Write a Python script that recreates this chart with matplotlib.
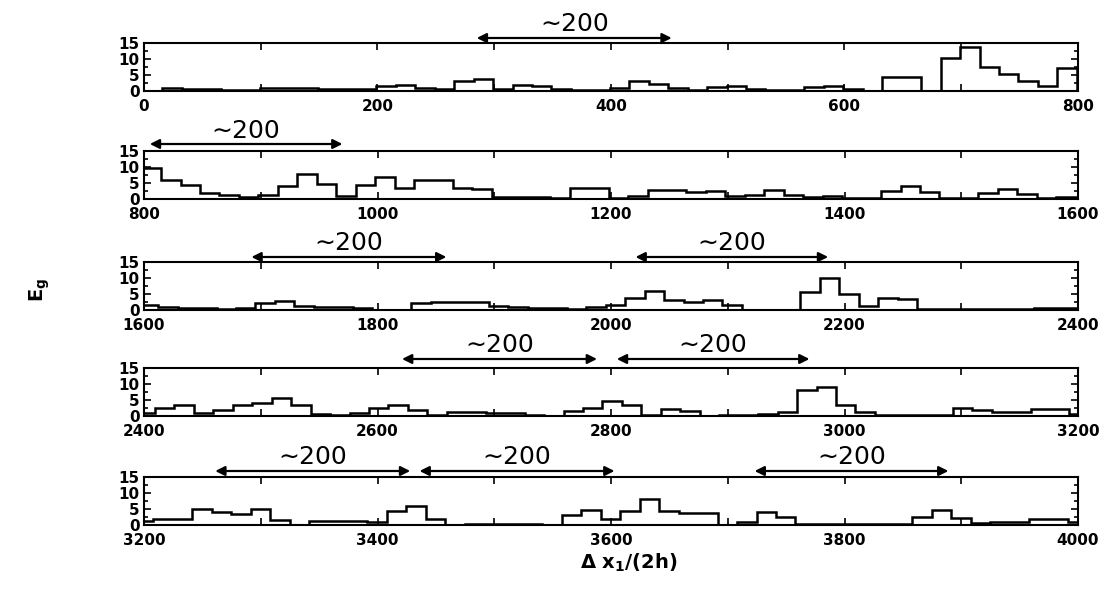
import numpy as np
import matplotlib
matplotlib.use("Agg")
import matplotlib.pyplot as plt
from matplotlib.ticker import FixedLocator, FuncFormatter

# ---------------- data ----------------
bin_width = 50.0 / 3.0
panel_starts = [0, 800, 1600, 2400, 3200]
bin_offsets = [-1.0, -2.0, -4.5, -7.3, -8.7]

eg_panel1 = [0.0, 1.0, 0.6, 0.6, 0.2, 0.4, 0.8, 0.8, 0.8, 0.6, 0.7, 0.6, 1.5, 2.0, 1.0, 0.6,
             3.1, 3.6, 0.7, 1.8, 1.5, 0.5, 0.3, 0.3, 1.0, 3.0, 2.1, 0.8, 0.2, 1.3, 1.5, 0.7,
             0.4, 0.3, 1.3, 1.6, 0.7, 0.1, 4.5, 4.5, 0.1, 10.3, 13.8, 7.5, 5.2, 3.1, 1.5, 7.3, 0.0]
eg_panel2 = [9.6, 6.0, 4.5, 1.9, 1.2, 0.5, 1.2, 4.1, 7.9, 4.8, 1.0, 4.3, 6.8, 3.5, 5.8, 6.0,
             3.5, 3.2, 0.7, 0.6, 0.5, 0.4, 3.3, 3.3, 0.3, 1.0, 2.7, 2.7, 2.2, 2.4, 0.8, 1.2,
             2.8, 1.2, 0.6, 1.0, 0.3, 0.3, 2.4, 4.2, 2.2, 0.3, 0.3, 1.8, 3.0, 1.5, 0.4, 0.6, 0.6]
eg_panel3 = [1.6, 0.8, 0.6, 0.5, 0.4, 0.6, 2.3, 2.8, 1.2, 0.8, 1.0, 0.5, 0.1, 0.1, 2.3, 2.5,
             2.6, 2.5, 1.2, 1.0, 0.7, 0.7, 0.3, 1.0, 1.5, 3.9, 5.8, 3.2, 2.5, 3.0, 1.6, 0.1,
             0.1, 0.1, 5.5, 9.9, 4.9, 1.1, 3.7, 3.3, 0.4, 0.3, 0.3, 0.2, 0.3, 0.4, 0.5, 0.5, 0.5]
eg_panel4 = [0.8, 2.4, 3.3, 1.0, 1.8, 3.3, 4.0, 5.5, 3.4, 0.7, 0.3, 0.9, 2.6, 3.4, 1.9, 0.3,
             1.4, 1.3, 0.8, 0.8, 0.3, 0.0, 1.6, 2.6, 4.6, 3.4, 0.4, 2.3, 1.5, 0.1, 0.2, 0.3,
             0.5, 1.1, 8.1, 9.1, 3.4, 1.1, 0.4, 0.4, 0.3, 0.4, 2.5, 1.8, 1.3, 1.3, 2.3, 2.3, 0.7]
eg_panel5 = [1.2, 1.9, 1.9, 5.1, 4.1, 3.3, 4.9, 1.6, 0.1, 1.2, 1.4, 1.4, 1.0, 4.5, 5.8, 1.8,
             0.1, 0.2, 0.3, 0.3, 0.2, 0.0, 3.1, 4.8, 1.9, 4.5, 8.1, 4.4, 3.6, 3.6, 0.1, 0.9,
             4.0, 2.6, 0.2, 0.3, 0.4, 0.2, 0.2, 0.2, 2.5, 4.8, 2.3, 0.5, 0.8, 1.0, 1.9, 1.9, 1.0]
panels = [eg_panel1, eg_panel2, eg_panel3, eg_panel4, eg_panel5]

arrow_spans = [
    [(285, 452)],
    [(805, 970)],
    [(1692, 1859), (2021, 2186)],
    [(2621, 2788), (2805, 2970)],
    [(3261, 3428), (3436, 3603), (3723, 3889)],
]
arrow_label = "\u223c200"
y_ticks = [0, 5, 10, 15]
ylabel = r"E$_\mathregular{g}$"
xlabel = r"$\mathregular{\Delta}$ x$_\mathregular{1}$/(2h)"

# ---------------- figure ----------------
W, H = 1109, 594
fig = plt.figure(figsize=(W / 100, H / 100), dpi=100)
plt.rcParams["font.family"] = ["DejaVu Sans"]

left_px, width_px, height_px = 144, 934, 48
tops_px = [43, 151, 262, 368, 477]
arrow_px = [5, 7, 5, 9, 6]
text_px = [19, 19.5, 18.5, 23, 20.5]

for i, vals in enumerate(panels):
    top = tops_px[i]
    ax = fig.add_axes([left_px / W, 1 - (top + height_px) / H, width_px / W, height_px / H])
    start = panel_starts[i]
    edges = start + bin_offsets[i] + bin_width * np.arange(len(vals) + 1)
    ax.stairs(vals, edges, color="black", lw=1.8, baseline=None)
    ax.set_xlim(start, start + 800)
    ax.set_ylim(0, 15)

    ax.xaxis.set_major_locator(FixedLocator(np.arange(start, start + 801, 100)))
    ax.xaxis.set_major_formatter(FuncFormatter(lambda v, p: f"{int(round(v))}" if round(v) % 200 == 0 else ""))
    ax.yaxis.set_major_locator(FixedLocator(y_ticks))
    ax.yaxis.set_minor_locator(FixedLocator([2.5, 7.5, 12.5]))
    ax.tick_params(axis="both", which="both", direction="in", top=True, right=True,
                   width=1.2, colors="black")
    ax.tick_params(axis="x", which="major", length=5, pad=6, labelsize=11)
    ax.tick_params(axis="y", which="major", length=5, pad=3, labelsize=11)
    ax.tick_params(axis="y", which="minor", length=3)
    for lab in ax.get_xticklabels() + ax.get_yticklabels():
        lab.set_fontweight("bold")
    for lab in ax.get_yticklabels():
        lab.set_linespacing(0.9)
    for s in ax.spines.values():
        s.set_linewidth(1.5)

    trans = ax.get_xaxis_transform()
    for (a, b) in arrow_spans[i]:
        ya = 1 + arrow_px[i] / height_px
        ax.annotate("", xy=(b, ya), xytext=(a, ya), xycoords=trans, textcoords=trans,
                    annotation_clip=False,
                    arrowprops=dict(arrowstyle="<|-|>", color="black", lw=1.6,
                                    mutation_scale=14, shrinkA=0, shrinkB=0))
        ax.text((a + b) / 2, 1 + text_px[i] / height_px, arrow_label, transform=trans,
                ha="center", va="center", fontsize=18, clip_on=False)

fig.text(40 / W, 1 - 290 / H, ylabel, rotation=90, ha="center", va="center",
         fontsize=14, fontweight="bold")
fig.text(629 / W, 1 - 563 / H, xlabel, ha="center", va="center",
         fontsize=14, fontweight="bold")

fig.savefig("out.png", dpi=100)
